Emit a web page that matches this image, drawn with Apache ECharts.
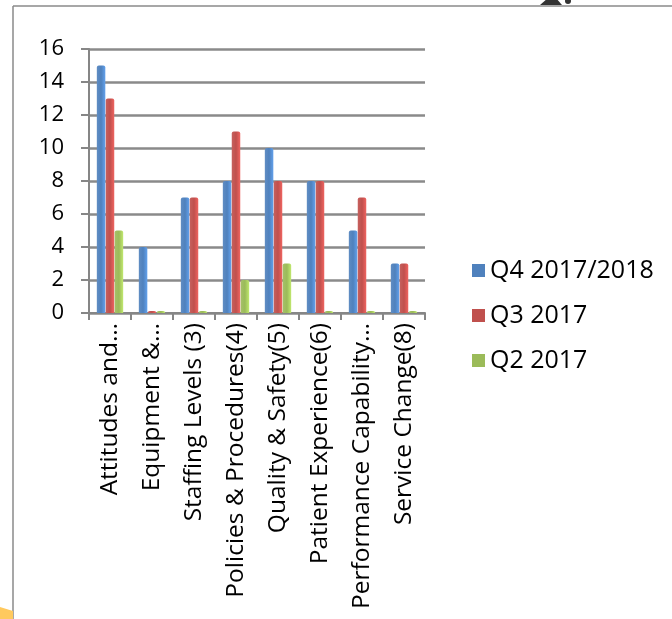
<!DOCTYPE html>
<html><head><meta charset="utf-8">
<script src="https://cdn.jsdelivr.net/npm/echarts@6/dist/echarts.min.js"></script>
<style>html,body{margin:0;padding:0;background:#fff}#c{width:672px;height:619px}</style>
</head><body><div id="c"></div>
<script>
const categories = ["Attitudes and…","Equipment &…","Staffing Levels (3)","Policies & Procedures(4)","Quality & Safety(5)","Patient Experience(6)","Performance Capability…","Service Change(8)"];
const seriesNames = ["Q4 2017/2018","Q3 2017","Q2 2017"];
const q4 = [15,4,7,8,10,8,5,3];
const q3 = [13,0,7,11,8,8,7,3];
const q2 = [5,0,0,2,3,0,0,0];
const yTicks = [0,2,4,6,8,10,12,14,16];
const colors = ["#4F81BD","#C0504D","#9BBB59"];
const font = "'Open Sans', sans-serif";

const chart = echarts.init(document.getElementById('c'));
function mk(name, data, color){
  return {name, type:'bar', data, barWidth:8.5, barGap:'5%',
    itemStyle:{color:new echarts.graphic.LinearGradient(0,0,1,0,[
      {offset:0,color:echarts.color.lift(color,0.1)},
      {offset:0.5,color:color},
      {offset:1,color:echarts.color.lift(color,-0.25)}]),
      borderRadius:[2,2,0,0]},
    barMinHeight:2};
}
chart.setOption({
  animation:false,
  textStyle:{fontFamily:font},
  grid:{left:89,right:247,top:49,bottom:306,containLabel:false},
  xAxis:{type:'category',data:categories,
    axisLine:{lineStyle:{color:'#868686',width:2}},
    axisTick:{show:true,length:7,lineStyle:{color:'#868686',width:2}},
    axisLabel:{rotate:90,fontSize:24.5,color:'#000',fontFamily:font,margin:10,interval:0}},
  yAxis:{type:'value',min:yTicks[0],max:yTicks[yTicks.length-1],interval:2,
    axisLine:{show:true,lineStyle:{color:'#868686',width:2}},
    axisTick:{show:true,length:8,lineStyle:{color:'#868686',width:2}},
    axisLabel:{fontSize:22,color:'#000',fontFamily:font,margin:25},
    splitLine:{lineStyle:{color:'#8a8a8a',width:2.5}}},
  legend:{orient:'vertical',left:467,top:253,itemGap:20,itemWidth:13,itemHeight:13,
    icon:'rect',textStyle:{fontSize:25,color:'#000',fontFamily:font},
    data:seriesNames.map((n,i)=>({name:n,itemStyle:{color:colors[i]}}))},
  graphic:[
    {type:'line',shape:{x1:13,y1:6,x2:672,y2:6},style:{stroke:'#8a8a8a',lineWidth:1.5}},
    {type:'line',shape:{x1:13,y1:6,x2:13,y2:619},style:{stroke:'#8a8a8a',lineWidth:1.5}},
    {type:'polygon',shape:{points:[[0,607],[13,611],[13,619],[0,619]]},style:{fill:'#FFC95E'}},
    {type:'polygon',shape:{points:[[540,5],[548,-2],[556,-2],[562,5]]},style:{fill:'#333'}},
    {type:'circle',shape:{cx:568,cy:1,r:3},style:{fill:'#333'}}
  ],
  series:[mk(seriesNames[0],q4,colors[0]),mk(seriesNames[1],q3,colors[1]),mk(seriesNames[2],q2,colors[2])]
});
</script></body></html>
